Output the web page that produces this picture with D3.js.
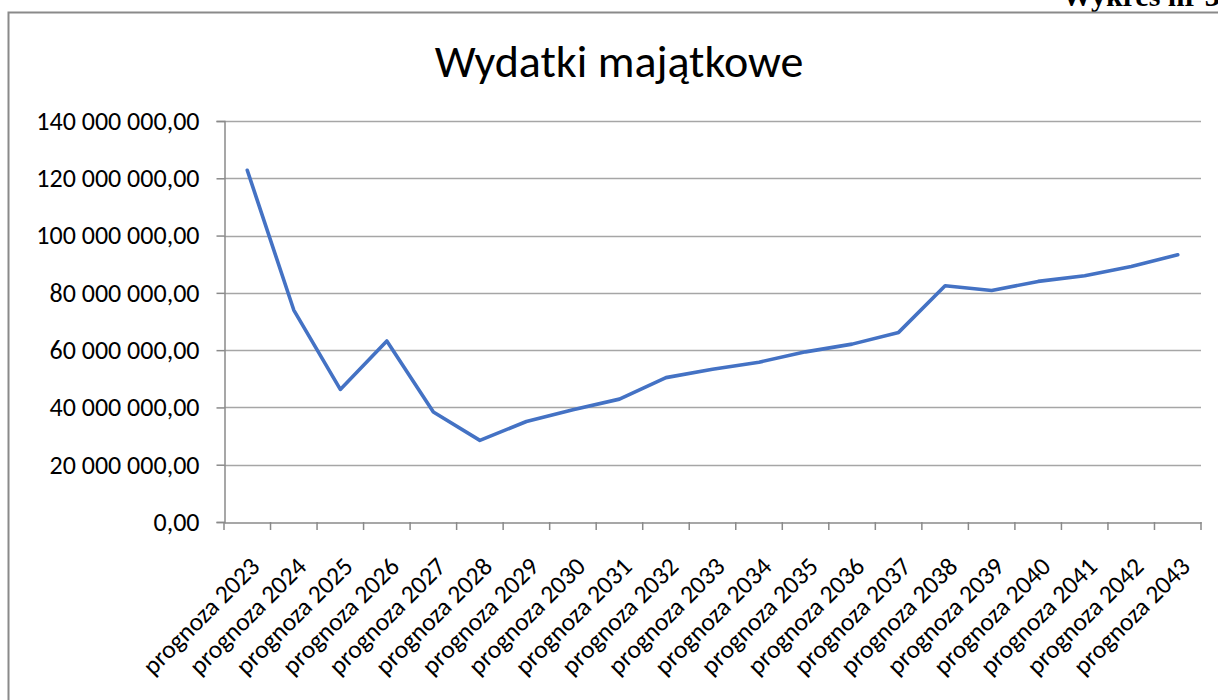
<!DOCTYPE html>
<html>
<head>
<meta charset="utf-8">
<script src="https://cdn.jsdelivr.net/npm/d3@7"></script>
<style>
  body { margin: 0; background: #fff; }
  svg { display: block; }
</style>
</head>
<body>
<svg id="chart" width="1218" height="700"></svg>
<script>
// data
const categories = ["prognoza 2023", "prognoza 2024", "prognoza 2025", "prognoza 2026", "prognoza 2027",
    "prognoza 2028", "prognoza 2029", "prognoza 2030", "prognoza 2031", "prognoza 2032", "prognoza 2033",
    "prognoza 2034", "prognoza 2035", "prognoza 2036", "prognoza 2037", "prognoza 2038", "prognoza 2039",
    "prognoza 2040", "prognoza 2041", "prognoza 2042", "prognoza 2043"];
const values = [122.8e6, 74.0e6, 46.3e6, 63.2e6, 38.4e6, 28.5e6, 35.1e6, 39.2e6, 42.9e6, 50.4e6, 53.3e6,
    55.8e6, 59.4e6, 62.1e6, 66.2e6, 82.5e6, 80.8e6, 84.0e6, 86.0e6, 89.2e6, 93.3e6];
const yTicks = [0, 20e6, 40e6, 60e6, 80e6, 100e6, 120e6, 140e6];
const chartTitle = "Wydatki majątkowe";
const pageNote = "Wykres nr 3";

const font = "Carlito, Lato, sans-serif";
const svg = d3.select("#chart");

// page note, cut off at the top edge like in the scan
svg.append("text")
    .attr("x", 1062)
    .attr("y", 6)
    .attr("font-family", "'Liberation Serif', serif")
    .attr("font-weight", "bold")
    .attr("font-size", 30)
    .text(pageNote);

// chart frame (only top and left edges are visible)
svg.append("path")
    .attr("d", "M8.5,700 V12.5 H1218")
    .attr("fill", "none")
    .attr("stroke", "#8a8a8a")
    .attr("stroke-width", 2);

// title
svg.append("text")
    .attr("x", 619)
    .attr("y", 77)
    .attr("text-anchor", "middle")
    .attr("font-family", font)
    .attr("font-size", 46)
    .text(chartTitle);

const x = d3.scaleBand().domain(categories).range([224, 1201]);
const y = d3.scaleLinear().domain([0, 140e6]).range([522, 121]);

const pl = d3.formatLocale({ decimal: ",", thousands: " ", grouping: [3], currency: ["", ""] });
const fmt = pl.format(",.2f");

// gridlines
svg.append("g")
    .selectAll("line")
    .data(yTicks.filter(d => d > 0))
    .enter()
    .append("line")
    .attr("x1", 224)
    .attr("x2", 1201)
    .attr("y1", d => Math.round(y(d)) + 0.5)
    .attr("y2", d => Math.round(y(d)) + 0.5)
    .attr("stroke", "#a6a6a6")
    .attr("stroke-width", 1.5);

// y axis
const yAxis = svg.append("g")
    .attr("transform", "translate(224.5,0)")
    .call(d3.axisLeft(y).tickValues(yTicks).tickFormat(fmt).tickSize(8).tickPadding(17));
yAxis.select(".domain").attr("stroke", "#8a8a8a").attr("stroke-width", 1.5);
yAxis.selectAll(".tick line").attr("stroke", "#8a8a8a").attr("stroke-width", 1.5);
yAxis.selectAll(".tick text")
    .attr("font-family", font)
    .attr("font-size", 26)
    .attr("fill", "#000");

// x axis
const xAxis = svg.append("g")
    .attr("transform", "translate(0," + 522.5 + ")")
    .call(d3.axisBottom(x).tickSize(0).tickFormat(""));
xAxis.select(".domain").attr("stroke", "#8a8a8a").attr("stroke-width", 1.5);

// category boundary ticks
svg.append("g")
    .selectAll("line")
    .data(d3.range(categories.length + 1))
    .enter()
    .append("line")
    .attr("x1", i => i < categories.length ? x(categories[i]) : x.range()[1])
    .attr("x2", i => i < categories.length ? x(categories[i]) : x.range()[1])
    .attr("y1", 522)
    .attr("y2", 530)
    .attr("stroke", "#8a8a8a")
    .attr("stroke-width", 1.5);

// rotated category labels
svg.append("g")
    .selectAll("text")
    .data(categories)
    .enter()
    .append("text")
    .attr("text-anchor", "end")
    .attr("transform", d => "translate(" + (x(d) + x.bandwidth() / 2 + 14) + ",568) rotate(-45)")
    .attr("font-family", font)
    .attr("font-size", 25.5)
    .attr("fill", "#000")
    .text(d => d);

// the series line
const line = d3.line()
    .x((d, i) => x(categories[i]) + x.bandwidth() / 2)
    .y(d => y(d));

svg.append("path")
    .datum(values)
    .attr("d", line)
    .attr("fill", "none")
    .attr("stroke", "#4472C4")
    .attr("stroke-width", 3.6)
    .attr("stroke-linejoin", "round")
    .attr("stroke-linecap", "round");
</script>
</body>
</html>
